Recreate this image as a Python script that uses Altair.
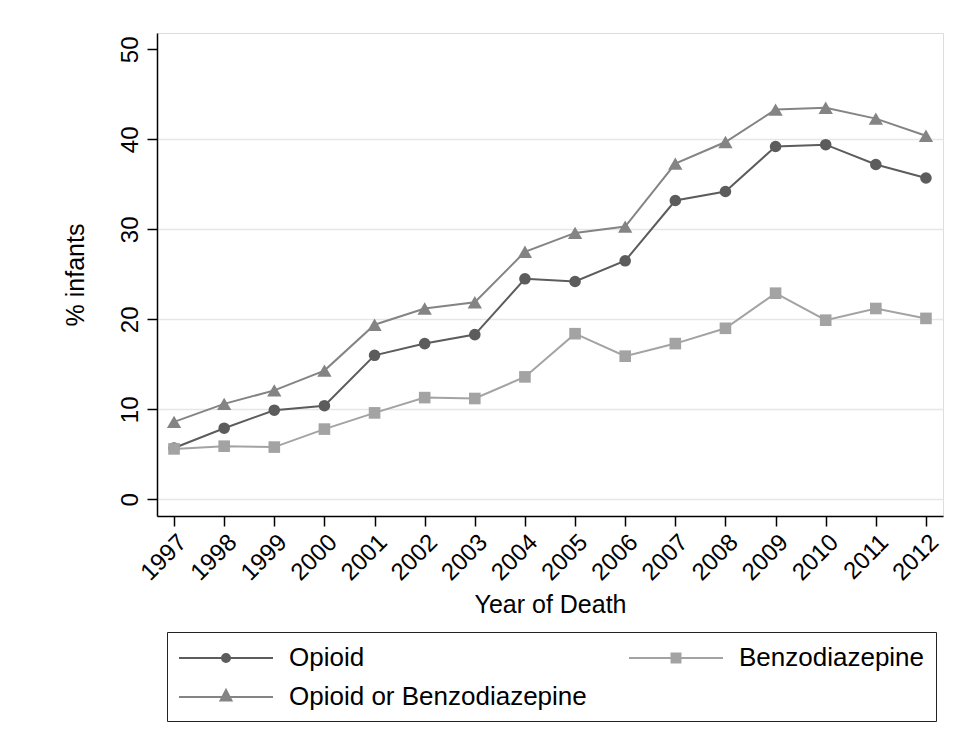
import altair as alt
import pandas as pd

years = list(range(1997, 2013))
opioid = [5.7, 7.9, 9.9, 10.4, 16.0, 17.3, 18.3, 24.5, 24.2, 26.5, 33.2, 34.2, 39.2, 39.4, 37.2, 35.7]
benzo = [5.6, 5.9, 5.8, 7.8, 9.6, 11.3, 11.2, 13.6, 18.4, 15.9, 17.3, 19.0, 22.9, 19.9, 21.2, 20.1]
either = [8.6, 10.6, 12.1, 14.3, 19.4, 21.2, 21.9, 27.5, 29.6, 30.3, 37.3, 39.7, 43.3, 43.5, 42.3, 40.4]

series_names = ["Opioid", "Benzodiazepine", "Opioid or Benzodiazepine"]
series_values = [opioid, benzo, either]
series_colors = ["#5c5c5c", "#a3a3a3", "#848484"]
plot_shapes = ["circle", "square", "triangle-up"]
marker_sizes = [135, 135, 205]
y_ticks = [0, 10, 20, 30, 40, 50]

# legend symbols: a line with the marker in its middle (unit = 14 px)
legend_shapes = [
    "M-3.357,0L3.357,0M0.286,0A0.286,0.286,0,1,1,-0.286,0A0.286,0.286,0,1,1,0.286,0Z",
    "M-3.357,0L3.357,0M-0.32,-0.32L0.32,-0.32L0.32,0.32L-0.32,0.32Z",
    "M-3.357,0L3.357,0M-0.39,0.25L0.39,0.25L0,-0.5Z",
]

rows = []
for name, vals in zip(series_names, series_values):
    for yr, v in zip(years, vals):
        rows.append({"year": yr, "pct": v, "series": name})
df = pd.DataFrame(rows)

FONT = "Liberation Sans"

x_enc = alt.X(
    "year:O",
    title="Year of Death",
    scale=alt.Scale(type="point", padding=0.34),
    axis=alt.Axis(
        labelAngle=315, labelAlign="right", labelBaseline="top", labelPadding=4,
        labelFontSize=24, labelColor="black", labelFont=FONT, labelOverlap=False,
        tickSize=10, tickColor="black", tickWidth=1.5,
        domainColor="black", domainWidth=1.5, grid=False,
        titleFontSize=25, titleFont=FONT, titleFontWeight="normal", titleColor="black",
        titleBaseline="alphabetic", titleY=96,
    ),
)
y_enc = alt.Y(
    "pct:Q",
    title="% infants",
    scale=alt.Scale(domain=[-1.856, 51.81], nice=False, zero=False),
    axis=alt.Axis(
        values=y_ticks, format="d",
        labelAngle=270, labelAlign="center", labelBaseline="bottom", labelPadding=5,
        labelFontSize=24, labelColor="black", labelFont=FONT,
        tickSize=10, tickColor="black", tickWidth=1.5,
        domainColor="black", domainWidth=1.5,
        grid=True, gridColor="#e6e6e6", gridWidth=1.5,
        gridOpacity={"condition": {"test": "datum.value === 50", "value": 0}, "value": 1},
        titleFontSize=25, titleFont=FONT, titleFontWeight="normal", titleColor="black",
        titleBaseline="alphabetic", titleX=-74, titleY=241.5,
    ),
)

base = alt.Chart(df)
layers = []
for name, col, shp, sz in zip(series_names, series_colors, plot_shapes, marker_sizes):
    sub = base.transform_filter(alt.datum.series == name)
    layers.append(sub.mark_line(color=col, strokeWidth=2).encode(x=x_enc, y=y_enc))
    layers.append(
        sub.mark_point(filled=True, shape=shp, size=sz, color=col, opacity=1).encode(x=x_enc, y=y_enc)
    )

leg = alt.Legend(
    title=None, orient="none", legendX=10, legendY=599, columns=2, direction="horizontal",
    columnPadding=38, rowPadding=11, symbolSize=784, symbolStrokeWidth=2,
    symbolOffset=33, labelOffset=48, labelFontSize=26, labelFont=FONT,
    labelColor="black", labelLimit=500, strokeColor="#222222", fillColor="white",
    padding=11, symbolOpacity=1,
)
legend_layer = base.transform_filter("datum.pct < -100").mark_point(
    filled=True, opacity=1, strokeWidth=2
).encode(
    color=alt.Color("series:N", scale=alt.Scale(domain=series_names, range=series_colors), legend=leg),
    stroke=alt.Stroke("series:N", scale=alt.Scale(domain=series_names, range=series_colors), legend=leg),
    shape=alt.Shape("series:N", scale=alt.Scale(domain=series_names, range=legend_shapes), legend=leg),
)
layers.append(legend_layer)

chart = alt.layer(*layers).properties(
    width=786, height=483,
    autosize=alt.AutoSizeParams(type="none"),
    padding={"left": 149, "top": 25, "right": 5, "bottom": 212},
    background="white",
).configure_view(stroke=None).configure(font=FONT)

chart.save("out.html", embed_options={"renderer": "svg", "actions": False})
